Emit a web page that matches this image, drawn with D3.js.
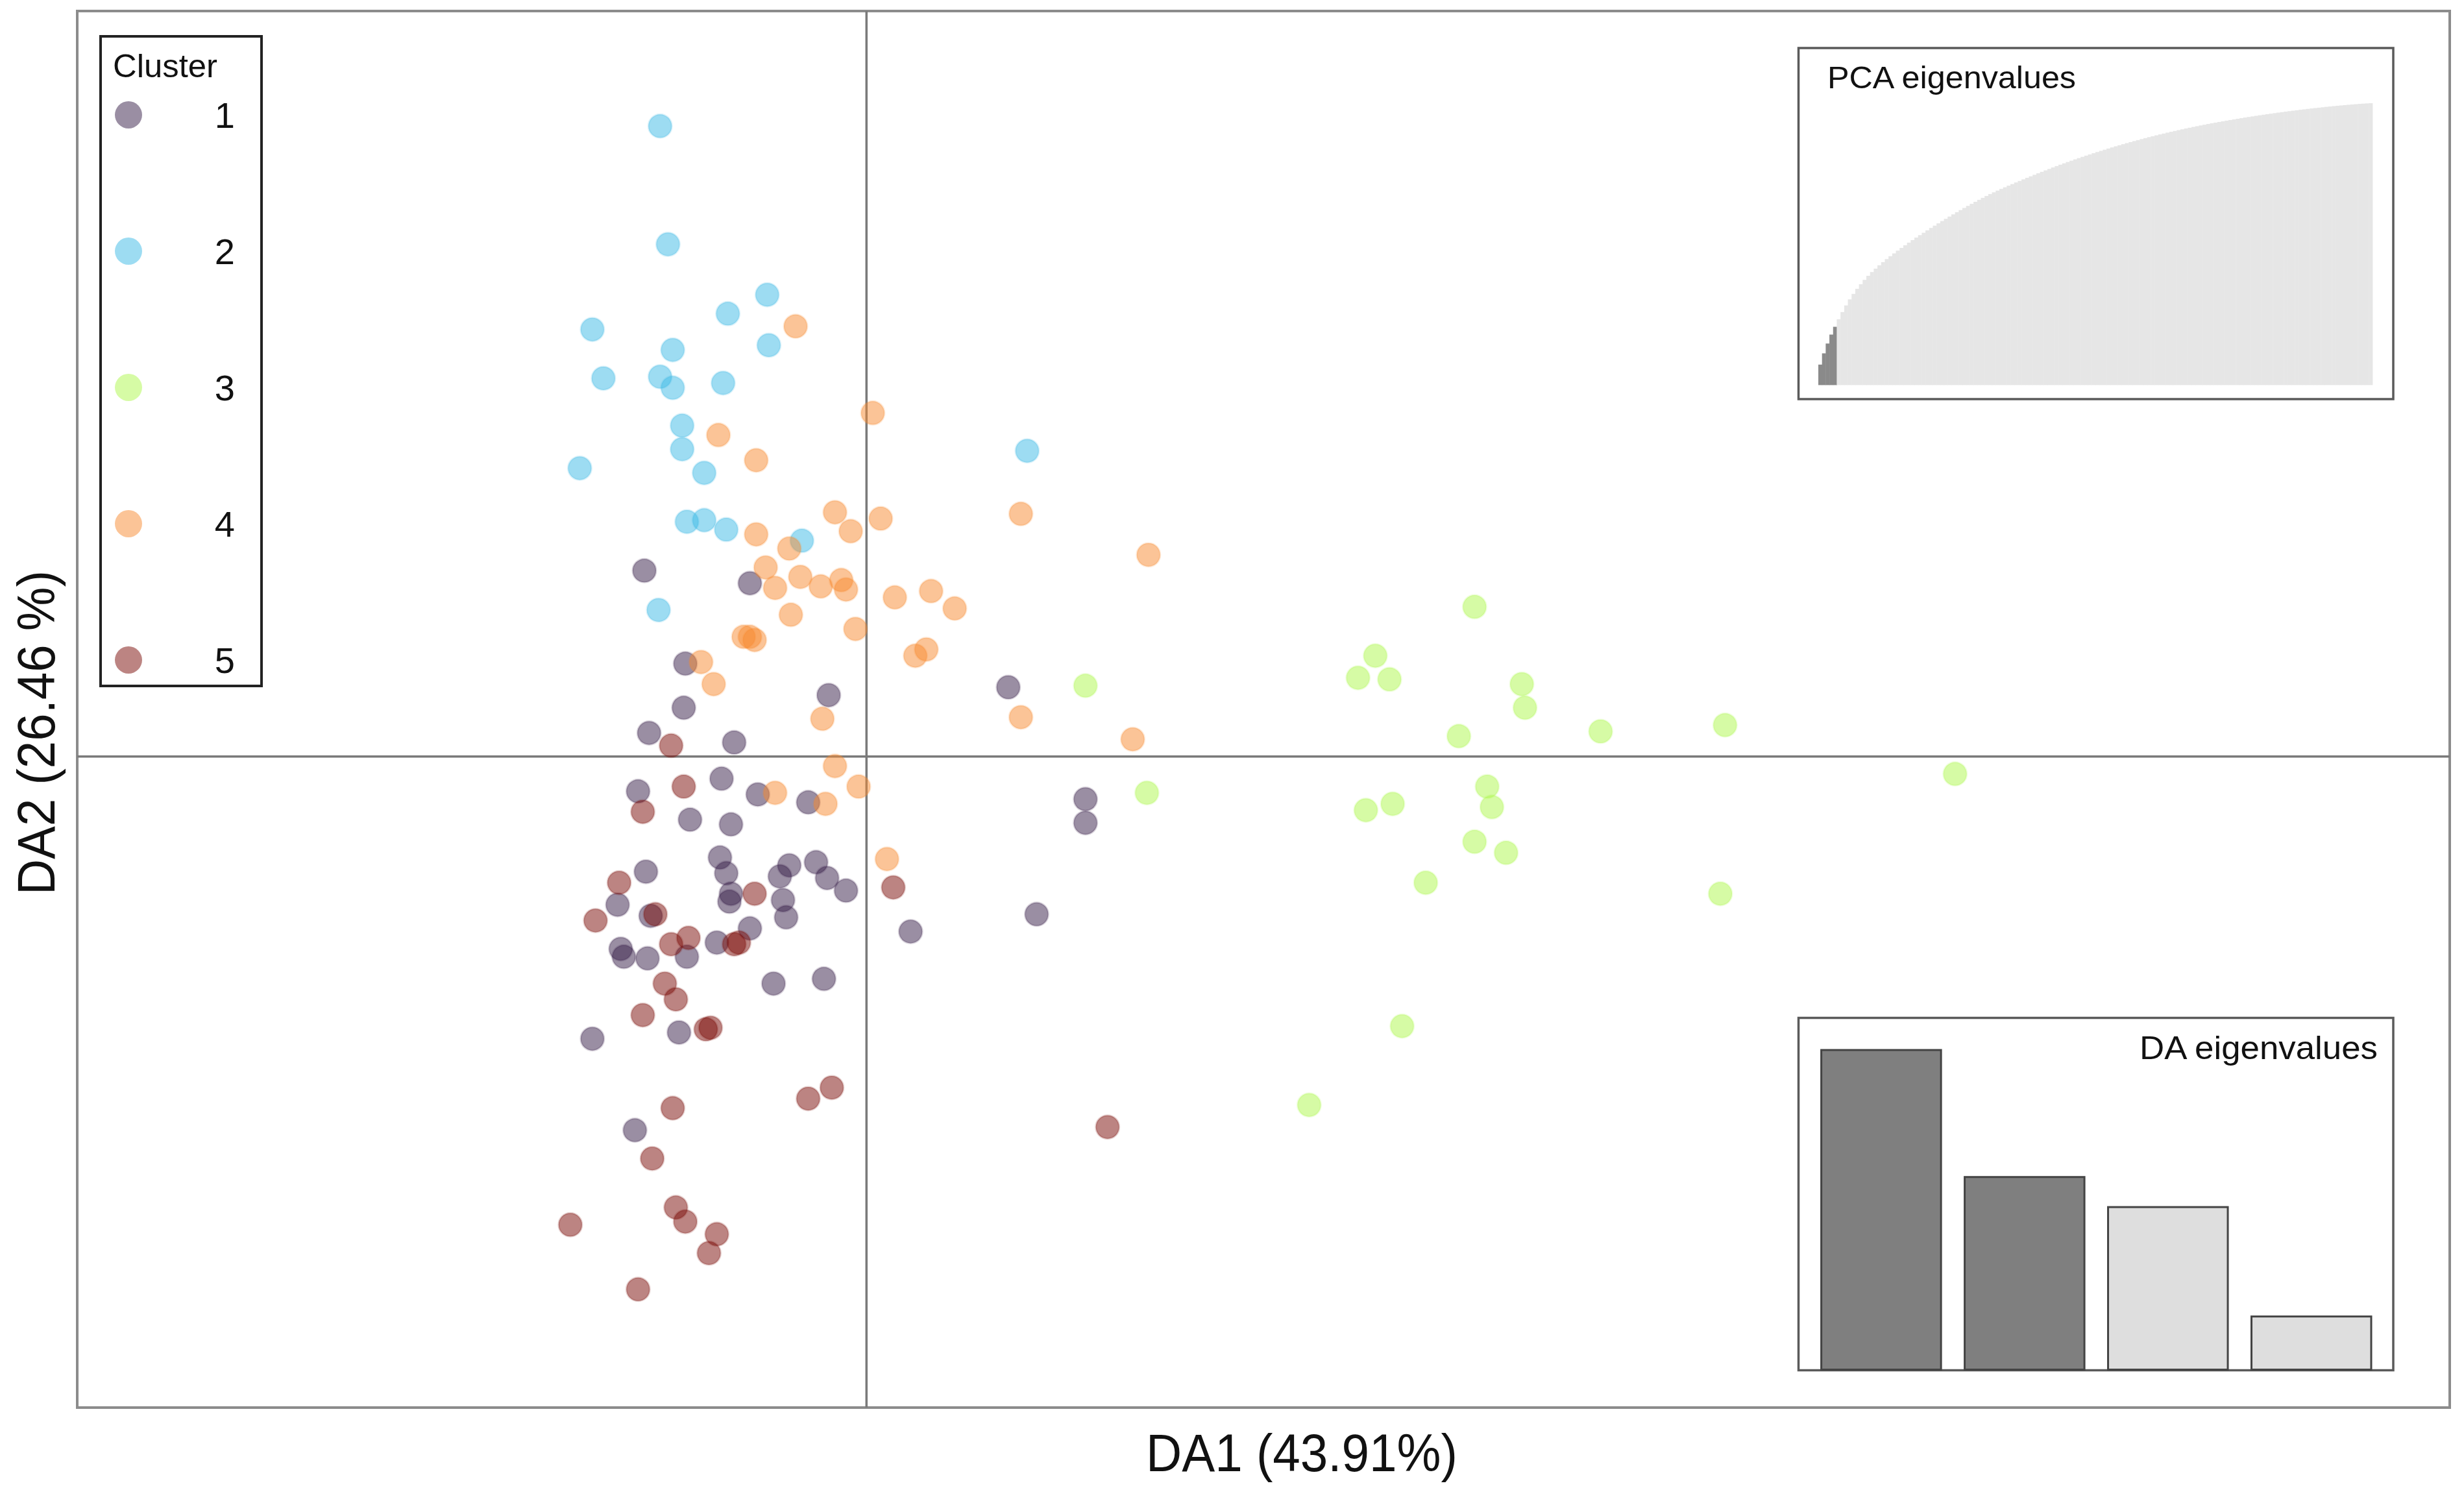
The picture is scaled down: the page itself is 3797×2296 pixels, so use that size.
<!DOCTYPE html>
<html>
<head>
<meta charset="utf-8">
<script src="https://cdn.jsdelivr.net/npm/d3@7"></script>
<style>
  body { margin: 0; background: #fff; }
  text { font-family: "Liberation Sans", Arial, sans-serif; fill: #111; }
</style>
</head>
<body>
<script>
// ---- data : DAPC scores per cluster (DA1, DA2) ----
const clusters = ["1", "2", "3", "4", "5"];
const clusterColors = ["#351d47", "#3bb9e5", "#adf74b", "#f7892f", "#7a0a05"];

const c1DA1 = [-1.41,-0.74,-1.15,-1.16,-0.24,0.90,-1.38,-0.84,-1.45,-0.92,-0.69,-0.37,-1.12,-0.86,-0.93,-0.89,-0.49,-0.55,-0.32,-0.25,-0.13,-1.40,-1.58,-1.37,-0.86,-0.87,-0.53,-0.51,-0.74,-0.95,-1.56,-1.54,-1.39,-1.14,-0.59,-0.27,-1.74,-1.19,-1.47,1.39,1.39,1.08,0.28];
const c1DA2 = [1.18,1.10,0.59,0.31,0.39,0.44,0.15,0.09,-0.22,-0.14,-0.24,-0.29,-0.40,-0.43,-0.64,-0.74,-0.69,-0.76,-0.67,-0.77,-0.85,-0.73,-0.94,-1.01,-0.87,-0.92,-0.91,-1.02,-1.09,-1.18,-1.22,-1.27,-1.28,-1.27,-1.44,-1.41,-1.79,-1.75,-2.37,-0.27,-0.42,-1.00,-1.11];

const c2DA1 = [-1.31,-1.26,-0.63,-0.88,-1.74,-1.23,-0.62,-1.67,-1.31,-1.23,-0.91,-1.17,-1.17,-1.82,-1.03,-1.14,-1.03,-0.89,-0.41,-1.32,1.02];
const c2DA2 = [4.00,3.25,2.93,2.81,2.71,2.58,2.61,2.40,2.41,2.34,2.37,2.10,1.95,1.83,1.80,1.49,1.50,1.44,1.37,0.93,1.94];

const c3DA1 = [3.86,3.23,3.12,3.32,1.39,4.16,4.18,3.76,4.66,5.45,1.78,3.94,3.97,3.17,3.34,6.91,3.86,4.06,3.55,5.42,3.40,2.81];
const c3DA2 = [0.95,0.64,0.50,0.49,0.45,0.46,0.31,0.13,0.16,0.20,-0.23,-0.19,-0.32,-0.34,-0.30,-0.11,-0.54,-0.61,-0.80,-0.87,-1.71,-2.21];

const c4DA1 = [-0.45,0.04,-0.94,-0.70,-0.20,0.09,0.98,-0.10,-0.70,-0.49,1.79,-0.64,-0.42,-0.58,-0.29,-0.16,-0.13,0.18,0.41,0.56,-0.48,-0.07,-0.78,-0.74,-0.71,0.31,0.38,-1.05,-0.97,-0.28,0.98,1.69,-0.20,-0.05,-0.58,-0.26,0.13];
const c4DA2 = [2.73,2.18,2.04,1.88,1.55,1.51,1.54,1.43,1.41,1.32,1.28,1.20,1.14,1.07,1.08,1.12,1.06,1.01,1.05,0.94,0.90,0.81,0.76,0.76,0.74,0.64,0.68,0.60,0.46,0.24,0.25,0.11,-0.06,-0.19,-0.23,-0.30,-0.65];

const c5DA1 = [-1.24,-1.16,-1.42,-1.57,-0.71,0.17,-1.72,-1.34,-1.24,-1.13,-0.84,-0.81,-1.28,-1.21,-1.42,-1.02,-0.99,-1.23,-0.37,-0.22,-1.36,-1.21,-1.15,-0.95,-1.00,-1.88,-1.45,1.53];
const c5DA2 = [0.07,-0.19,-0.35,-0.80,-0.87,-0.83,-1.04,-1.00,-1.19,-1.15,-1.19,-1.18,-1.44,-1.54,-1.64,-1.73,-1.72,-2.23,-2.17,-2.10,-2.55,-2.86,-2.95,-3.03,-3.15,-2.97,-3.38,-2.35];

// eigenvalues (% of variance)
const daEig = [43.91, 26.46, 22.33, 7.30];
const daRetained = 2;
const pcaEig = [7.1,3.9,3.4,3.1,2.7,
  2.6,2.5,2.3,2.1,1.9, 1.75,1.6,1.5,1.4,1.3, 1.2,1.15,1.1,1.05,1.0,
  0.98,0.96,0.94,0.92,0.9, 0.88,0.86,0.85,0.84,0.83, 0.82,0.81,0.8,0.79,0.78,
  0.77,0.76,0.75,0.74,0.73, 0.72,0.71,0.7,0.69,0.68, 0.66,0.64,0.62,0.6,0.58,
  0.57,0.56,0.55,0.55,0.54, 0.54,0.53,0.53,0.52,0.52, 0.51,0.51,0.5,0.5,0.49,
  0.48,0.47,0.46,0.45,0.45, 0.44,0.43,0.43,0.42,0.42, 0.41,0.41,0.4,0.4,0.39,
  0.38,0.37,0.37,0.36,0.36, 0.35,0.35,0.34,0.34,0.33, 0.32,0.32,0.31,0.31,0.3,
  0.3,0.29,0.29,0.28,0.28, 0.27,0.27,0.26,0.26,0.25, 0.25,0.24,0.24,0.23,0.23,
  0.22,0.22,0.22,0.21,0.21, 0.21,0.2,0.2,0.2,0.19, 0.19,0.19,0.18,0.18,0.18,
  0.17,0.17,0.17,0.16,0.16, 0.16,0.15,0.15,0.15,0.14, 0.14,0.14,0.13,0.13,0.13,
  0.12,0.12,0.12,0.11,0.11, 0.1,0.1,0.09,0.08,0.07];
const pcaRetained = 5;

const xLabel = "DA1 (43.91%)";
const yLabel = "DA2 (26.46 %)";

// ---- build point list ----
const da1 = [c1DA1, c2DA1, c3DA1, c4DA1, c5DA1];
const da2 = [c1DA2, c2DA2, c3DA2, c4DA2, c5DA2];
let points = [];
clusters.forEach(function(c, k) {
  da1[k].forEach(function(v, i) {
    points.push({ grp: k, x: v, y: da2[k][i] });
  });
});

const W = 3797, H = 2296;
const svg = d3.select("body").append("svg")
  .attr("width", W)
  .attr("height", H)
  .style("display", "block");

// main plot region
const frame = { left: 119, right: 3775, top: 17, bottom: 2169 };
const x = d3.scaleLinear().domain([-5.01, 10.05]).range([frame.left, frame.right]);
const y = d3.scaleLinear().domain([-4.13, 4.73]).range([frame.bottom, frame.top]);

svg.append("rect")
  .attr("x", frame.left).attr("y", frame.top)
  .attr("width", frame.right - frame.left)
  .attr("height", frame.bottom - frame.top)
  .attr("fill", "none")
  .attr("stroke", "#8c8c8c")
  .attr("stroke-width", 4);

// axes through origin
svg.append("line")
  .attr("x1", x(0)).attr("x2", x(0))
  .attr("y1", frame.top).attr("y2", frame.bottom)
  .attr("stroke", "#7a7a7a").attr("stroke-width", 3.5);
svg.append("line")
  .attr("x1", frame.left).attr("x2", frame.right)
  .attr("y1", y(0)).attr("y2", y(0))
  .attr("stroke", "#7a7a7a").attr("stroke-width", 3.5);

// points
svg.append("g").selectAll("circle")
  .data(points)
  .enter().append("circle")
  .attr("cx", function(d) { return x(d.x); })
  .attr("cy", function(d) { return y(d.y); })
  .attr("r", 18)
  .attr("fill", function(d) { return clusterColors[d.grp]; })
  .attr("fill-opacity", 0.5)
  .attr("stroke", function(d) { return clusterColors[d.grp]; })
  .attr("stroke-opacity", 0.18)
  .attr("stroke-width", 3);

// axis titles
svg.append("text")
  .attr("x", 2006).attr("y", 2267)
  .attr("text-anchor", "middle")
  .attr("font-size", 82)
  .attr("textLength", 480)
  .attr("lengthAdjust", "spacingAndGlyphs")
  .text(xLabel);
svg.append("text")
  .attr("transform", "translate(84,1129) rotate(-90)")
  .attr("text-anchor", "middle")
  .attr("font-size", 82)
  .attr("textLength", 500)
  .attr("lengthAdjust", "spacingAndGlyphs")
  .text(yLabel);

// ---- legend ----
const leg = svg.append("g");
leg.append("rect")
  .attr("x", 155).attr("y", 56)
  .attr("width", 248).attr("height", 1001)
  .attr("fill", "#fff")
  .attr("stroke", "#222")
  .attr("stroke-width", 4);
leg.append("text")
  .attr("x", 174).attr("y", 119)
  .attr("font-size", 50)
  .attr("textLength", 161)
  .attr("lengthAdjust", "spacingAndGlyphs")
  .text("Cluster");
const ly = d3.scalePoint().domain(clusters).range([177, 1017]);
leg.selectAll("circle")
  .data(clusters)
  .enter().append("circle")
  .attr("cx", 198)
  .attr("cy", function(d) { return ly(d); })
  .attr("r", 21)
  .attr("fill", function(d, i) { return clusterColors[i]; })
  .attr("fill-opacity", 0.5);
leg.selectAll("text.num")
  .data(clusters)
  .enter().append("text")
  .attr("class", "num")
  .attr("x", 362)
  .attr("y", function(d) { return ly(d) + 20; })
  .attr("text-anchor", "end")
  .attr("font-size", 56)
  .text(function(d) { return d; });

// ---- PCA eigenvalues inset (cumulative) ----
const pcaBox = { x: 2771.5, y: 74, w: 916.5, h: 541 };
svg.append("rect")
  .attr("x", pcaBox.x).attr("y", pcaBox.y)
  .attr("width", pcaBox.w).attr("height", pcaBox.h)
  .attr("fill", "#fff")
  .attr("stroke", "#5a5a5a")
  .attr("stroke-width", 3.5);

const pcaTotal = d3.sum(pcaEig);
const pcaCum = d3.cumsum(pcaEig).map(function(v) { return v / pcaTotal * 100; });
const xp = d3.scaleBand().domain(d3.range(pcaEig.length)).range([2802, 3656]).padding(0);
const yp = d3.scaleLinear().domain([0, 100]).range([593.4, 159]);
svg.append("g").selectAll("rect")
  .data(pcaCum)
  .enter().append("rect")
  .attr("x", function(d, i) { return xp(i); })
  .attr("y", function(d) { return yp(d); })
  .attr("width", xp.bandwidth() + 0.4)
  .attr("height", function(d) { return yp(0) - yp(d); })
  .attr("fill", function(d, i) { return i < pcaRetained ? "#8a8a8a" : "#e6e6e6"; });
svg.append("text")
  .attr("x", 2816).attr("y", 136)
  .attr("font-size", 48)
  .attr("textLength", 383)
  .attr("lengthAdjust", "spacingAndGlyphs")
  .text("PCA eigenvalues");

// ---- DA eigenvalues inset ----
const daBox = { x: 2771.5, y: 1568.5, w: 916.5, h: 543 };
svg.append("rect")
  .attr("x", daBox.x).attr("y", daBox.y)
  .attr("width", daBox.w).attr("height", daBox.h)
  .attr("fill", "#fff")
  .attr("stroke", "#5a5a5a")
  .attr("stroke-width", 3.5);
const xd = d3.scaleBand().domain(d3.range(daEig.length)).range([2806.6, 3654]).paddingInner(0.165).paddingOuter(0);
const yd = d3.scaleLinear().domain([0, d3.max(daEig)]).range([2110.5, 1618]);
svg.append("g").selectAll("rect")
  .data(daEig)
  .enter().append("rect")
  .attr("x", function(d, i) { return xd(i); })
  .attr("y", function(d) { return yd(d); })
  .attr("width", xd.bandwidth())
  .attr("height", function(d) { return yd(0) - yd(d); })
  .attr("fill", function(d, i) { return i < daRetained ? "#7f7f7f" : "#dedede"; })
  .attr("stroke", "#444")
  .attr("stroke-width", 3);
svg.append("text")
  .attr("x", 3664).attr("y", 1632)
  .attr("text-anchor", "end")
  .attr("font-size", 50)
  .attr("textLength", 367)
  .attr("lengthAdjust", "spacingAndGlyphs")
  .text("DA eigenvalues");
</script>
</body>
</html>
